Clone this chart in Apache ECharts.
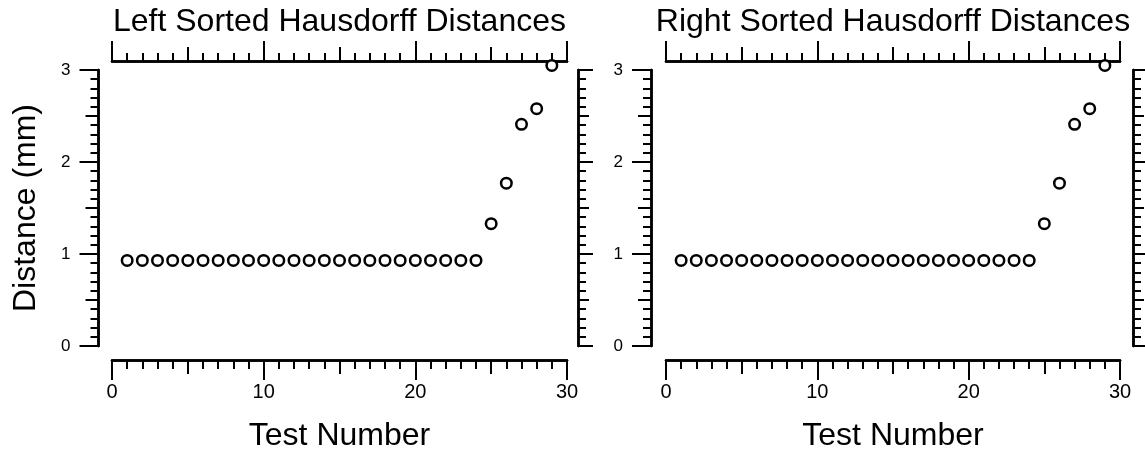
<!DOCTYPE html>
<html>
<head>
<meta charset="utf-8">
<script src="https://cdn.jsdelivr.net/npm/echarts@6/dist/echarts.min.js"></script>
<style>
html, body { margin: 0; padding: 0; background: #fff; }
#chart { width: 1145px; height: 457px; }
</style>
</head>
<body>
<div id="chart"></div>
<script>
// values
var testNumbers = [1, 2, 3, 4, 5, 6, 7, 8, 9, 10, 11, 12, 13, 14, 15, 16, 17, 18, 19, 20, 21, 22, 23, 24, 25, 26, 27, 28, 29];
var leftDist = [0.93, 0.93, 0.93, 0.93, 0.93, 0.93, 0.93, 0.93, 0.93, 0.93, 0.93, 0.93, 0.93, 0.93, 0.93, 0.93, 0.93, 0.93, 0.93, 0.93, 0.93, 0.93, 0.93, 0.93, 1.33, 1.77, 2.41, 2.58, 3.05];
var rightDist = [0.93, 0.93, 0.93, 0.93, 0.93, 0.93, 0.93, 0.93, 0.93, 0.93, 0.93, 0.93, 0.93, 0.93, 0.93, 0.93, 0.93, 0.93, 0.93, 0.93, 0.93, 0.93, 0.93, 0.93, 1.33, 1.77, 2.41, 2.58, 3.05];
var panelTitles = ['Left Sorted Hausdorff Distances', 'Right Sorted Hausdorff Distances'];
var xTickLabels = [0, 10, 20, 30];
var yTickLabels = [0, 1, 2, 3];

var FONT = 'Liberation Sans, Arial, Helvetica, sans-serif';
var chart = echarts.init(document.getElementById('chart'));

var grids = [
	{ left: 112, top: 70, width: 455, height: 278 },
	{ left: 666, top: 70, width: 454, height: 278 }
];
var offs = [
	{ left: 13.5, right: 11, bottom: 14, top: 9 },
	{ left: 15, right: 13, bottom: 14, top: 9 }
];

var xAxes = [];
var yAxes = [];
var series = [];

function axisBase(g, pos, off, min, max, interval, tickLen) {
	return {
		type : 'value',
		gridIndex : g,
		position : pos,
		offset : off,
		min : min,
		max : max,
		interval : interval,
		axisLine : { show : true, onZero : false, lineStyle : { color : '#000', width : 2.5 } },
		axisTick : { show : true, length : tickLen, lineStyle : { color : '#000', width : 2 } },
		axisLabel : { show : false },
		splitLine : { show : false }
	};
}

// major ticks on one axis, mid + minor ticks on a twin laid over it
function addX(g, pos, off, majorLen, midLen, minorLen, extra) {
	var a = axisBase(g, pos, off, 0, 30, 10, majorLen);
	for (var k in extra) a[k] = extra[k];
	var idx = xAxes.length;
	xAxes.push(a);
	var b = axisBase(g, pos, off, 0, 30, 5, midLen);
	b.minorTick = { show : true, splitNumber : 5, length : minorLen, lineStyle : { color : '#000', width : 2 } };
	xAxes.push(b);
	return idx;
}

function addY(g, pos, off, majorLen, midLen, minorLen, extra) {
	var a = axisBase(g, pos, off, 0, 3, 1, majorLen);
	for (var k in extra) a[k] = extra[k];
	var idx = yAxes.length;
	yAxes.push(a);
	var b = axisBase(g, pos, off, 0, 3, 0.5, midLen);
	b.minorTick = { show : true, splitNumber : 5, length : minorLen, lineStyle : { color : '#000', width : 2 } };
	yAxes.push(b);
	return idx;
}

var dists = [leftDist, rightDist];
for (var g = 0; g < 2; g++) {
	var xi = addX(g, 'bottom', offs[g].bottom, 20, 14, 9, {
		axisLabel : {
			show : true, fontSize : 20, color : '#000', fontFamily : FONT, margin : 22,
			formatter : function(v) { return xTickLabels.indexOf(v) > -1 ? String(v) : ''; }
		},
		name : 'Test Number',
		nameLocation : 'middle',
		nameGap : 60,
		nameTextStyle : { fontSize : 32, color : '#000', fontFamily : FONT }
	});
	addX(g, 'top', offs[g].top, 20, 14, 8, {
		name : panelTitles[g],
		nameLocation : 'middle',
		nameGap : 23,
		nameTextStyle : { fontSize : 32, color : '#000', fontFamily : FONT }
	});
	var yExtra = {
		axisLabel : {
			show : true, fontSize : 17, color : '#000', fontFamily : FONT, margin : 28,
			formatter : function(v) { return yTickLabels.indexOf(v) > -1 ? String(v) : ''; }
		}
	};
	if (g == 0) {
		yExtra.name = 'Distance (mm)';
		yExtra.nameLocation = 'middle';
		yExtra.nameGap = 56;
		yExtra.nameTextStyle = { fontSize : 32, color : '#000', fontFamily : FONT };
	}
	var yi = addY(g, 'left', offs[g].left, 19, 13, 8, yExtra);
	addY(g, 'right', offs[g].right, 15, 11, 8, {});

	var pts = [];
	for (var i = 0; i < testNumbers.length; i++) {
		pts.push([testNumbers[i], dists[g][i]]);
	}
	series.push({
		type : 'scatter',
		xAxisIndex : xi,
		yAxisIndex : yi,
		clip : false,
		symbol : 'circle',
		symbolSize : 10.5,
		itemStyle : { color : '#fff', borderColor : '#000', borderWidth : 2.5, opacity : 1 },
		data : pts
	});
}

chart.setOption({
	animation : false,
	backgroundColor : '#fff',
	grid : grids,
	xAxis : xAxes,
	yAxis : yAxes,
	series : series
});
</script>
</body>
</html>
